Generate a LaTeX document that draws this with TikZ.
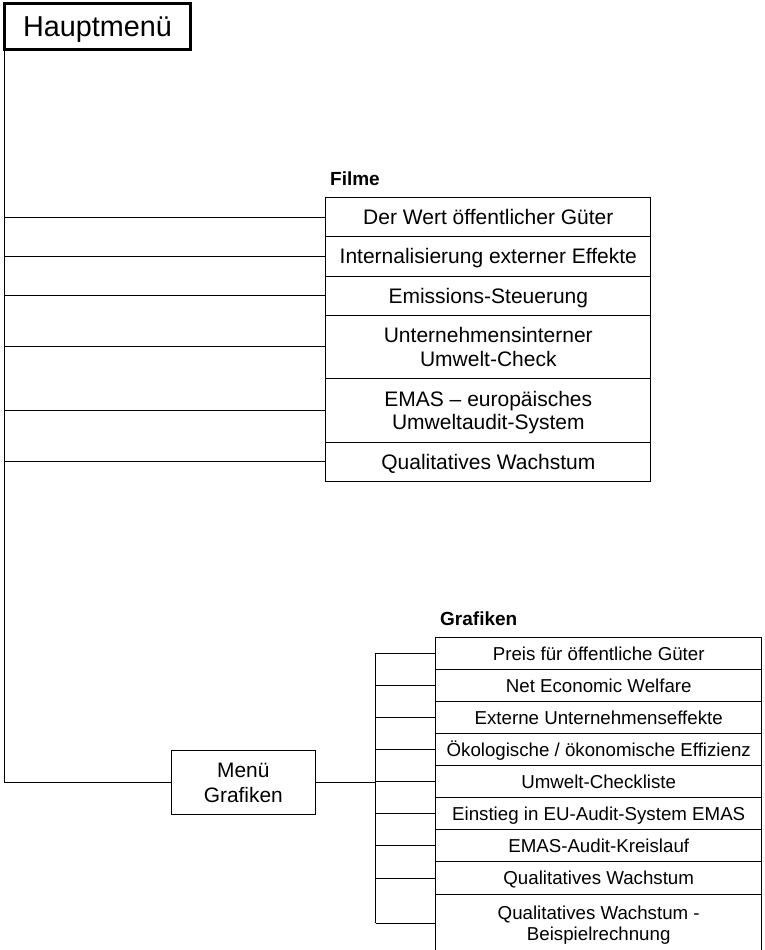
\documentclass[tikz,border=0pt]{standalone}
\usepackage{fontspec}
\setmainfont{Liberation Sans}
\usepackage{tikz}
\usetikzlibrary{positioning,calc}
\tikzset{
  hmenu/.style={draw, line width=3pt, outer sep=0pt, inner sep=2pt, align=center,
                text height=20.6pt, text depth=0pt,
                minimum width=186pt, minimum height=46pt, font=\fontsize{28.8}{32}\selectfont},
  menu/.style={draw, line width=1pt, outer sep=0pt, inner sep=2pt, align=center,
               text height=39.5pt, text depth=0pt,
               minimum width=144pt, minimum height=64pt, font=\fontsize{20.9}{24.5}\selectfont},
  film/.style={draw, line width=1pt, outer sep=0pt, inner sep=2pt, align=center,
               text height=15pt, text depth=0pt,
               minimum width=325.3pt, minimum height=39.2pt, font=\fontsize{21}{23.7}\selectfont},
  film2/.style={film, minimum height=63.5pt, text height=38.7pt},
  graf/.style={draw, line width=1pt, outer sep=0pt, inner sep=2pt, align=center,
               text height=13.4pt, text depth=0pt,
               minimum width=326pt, minimum height=32.1pt, font=\fontsize{18.7}{20.5}\selectfont},
  graf2/.style={graf, minimum height=58pt, text height=33.9pt},
  ltitle/.style={font=\fontsize{19}{22}\selectfont\bfseries, inner sep=0pt},
  conn/.style={line width=1pt},
  trunk/.style={line width=1.2pt},
}

\begin{document}
\begin{tikzpicture}[x=1pt, y=1pt]
  \useasboundingbox (0,0) rectangle (764,-950);
  \node[hmenu] (haupt) at (97.5,-26.5) {Hauptmenü};
  % Filme
  \node[film] (f1) at (488.3,-217.2) {Der Wert öffentlicher Güter};
  \node[film, below=0pt of f1] (f2) {Internalisierung externer Effekte};
  \node[film, below=0pt of f2] (f3) {Emissions-Steuerung};
  \node[film2, below=0pt of f3] (f4) {Unternehmensinterner\\Umwelt-Check};
  \node[film2, below=0pt of f4] (f5) {EMAS -- europäisches\\Umweltaudit-System};
  \node[film, below=0pt of f5] (f6) {Qualitatives Wachstum};
  \node[ltitle, above right=12pt and 4.3pt of f1.north west, anchor=south west] (lfilme) {Filme};
  % Grafiken
  \node[menu] (mgraf) at (243.3,-782.3) {Menü\\Grafiken};
  \node[graf] (g1) at (598.7,-653.3) {Preis für öffentliche Güter};
  \node[graf, below=0pt of g1] (g2) {Net Economic Welfare};
  \node[graf, below=0pt of g2] (g3) {Externe Unternehmenseffekte};
  \node[graf, below=0pt of g3] (g4) {Ökologische / ökonomische Effizienz};
  \node[graf, below=0pt of g4] (g5) {Umwelt-Checkliste};
  \node[graf, below=0pt of g5] (g6) {Einstieg in EU-Audit-System EMAS};
  \node[graf, below=0pt of g6] (g7) {EMAS-Audit-Kreislauf};
  \node[graf, below=0pt of g7] (g8) {Qualitatives Wachstum};
  \node[graf2, below=0pt of g8] (g9) {Qualitatives Wachstum -\\Beispielrechnung};
  \node[ltitle, above right=11.6pt and 4.3pt of g1.north west, anchor=south west] (lgraf) {Grafiken};
  \coordinate (bus) at ($(g1.west)+(-60,0)$);
  % connectors
  \draw[trunk] (haupt.south west) |- (mgraf.west);
  \draw[conn] (haupt.south west |- f1.west) -- (f1.west);
  \draw[conn] (haupt.south west |- f2.west) -- (f2.west);
  \draw[conn] (haupt.south west |- f3.west) -- (f3.west);
  \draw[conn] (haupt.south west |- f4.west) -- (f4.west);
  \draw[conn] (haupt.south west |- f5.west) -- (f5.west);
  \draw[conn] (haupt.south west |- f6.west) -- (f6.west);
  \draw[conn] (mgraf.east) -- (bus |- mgraf.east);
  \draw[conn] (bus |- g1.west) -- (bus |- g9.west);
  \draw[conn] (bus |- g1.west) -- (g1.west);
  \draw[conn] (bus |- g2.west) -- (g2.west);
  \draw[conn] (bus |- g3.west) -- (g3.west);
  \draw[conn] (bus |- g4.west) -- (g4.west);
  \draw[conn] (bus |- g5.west) -- (g5.west);
  \draw[conn] (bus |- g6.west) -- (g6.west);
  \draw[conn] (bus |- g7.west) -- (g7.west);
  \draw[conn] (bus |- g8.west) -- (g8.west);
  \draw[conn] (bus |- g9.west) -- (g9.west);
\end{tikzpicture}
\end{document}
